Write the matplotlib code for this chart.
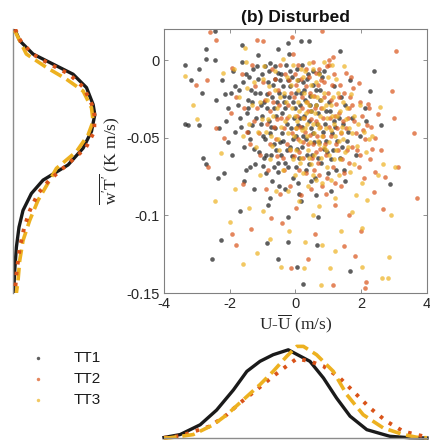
import matplotlib
matplotlib.use("Agg")
import matplotlib.pyplot as plt

plt.rcParams['font.family'] = ['Liberation Sans', 'DejaVu Sans']
plt.rcParams['axes.unicode_minus'] = False
plt.rcParams['mathtext.fontset'] = 'custom'
plt.rcParams['mathtext.rm'] = 'Liberation Serif'
plt.rcParams['mathtext.it'] = 'Liberation Serif'

C1 = '#1a1a1a'
C2 = '#d95319'
C3 = '#edb120'

# scatter points: (U - Ubar, w'T')
tt1_pts = [
    # outer points
    (-3.37, -0.003), (-3.37, -0.041), (-3.27, -0.042), (-2.94, -0.042), (-2.81, -0.063),
    (-2.71, -0.067), (-2.36, -0.076), (-2.16, -0.073), (-1.70, -0.097), (-2.26, -0.116),
    (-2.55, -0.128), (-0.53, -0.128), (-0.84, -0.093), (-0.87, -0.118), (-0.23, -0.101),
    (-0.23, -0.117), (-1.62, 0.010), (-2.71, 0.007), (-2.46, 0.019), (-2.94, -0.006),
    (-3.17, -0.013), (-2.83, -0.021), (-2.71, 0.001), (-2.46, 0.000), (-0.53, 0.007),
    (-0.23, 0.011), (0.17, 0.012), (0.41, 0.012), (1.35, 0.006), (2.39, -0.007),
    (2.27, -0.020), (2.13, -0.039), (2.60, -0.042), (2.87, -0.080), (1.51, -0.078),
    (1.66, -0.136), (0.24, -0.144), (0.04, -0.133), (0.64, -0.119), (0.69, -0.101),
    (0.11, -0.086), (1.66, -0.013), (2.11, -0.031),
    # main cloud
    (-2.23, -0.013), (-2.04, -0.031), (-1.91, -0.007), (-1.84, -0.046), (-1.72, -0.019),
    (-1.63, -0.001), (-1.57, -0.056), (-1.49, -0.034), (-1.41, -0.011), (-1.38, -0.069),
    (-1.31, -0.042), (-1.22, -0.021), (-1.17, -0.004), (-1.12, -0.059), (-1.06, -0.029),
    (-1.02, -0.009), (-0.98, -0.049), (-0.91, -0.073), (-0.88, -0.022), (-0.82, -0.039),
    (-0.79, -0.002), (-0.73, -0.061), (-0.68, -0.016), (-0.62, -0.044), (-0.57, -0.027),
    (-0.52, -0.008), (-0.49, -0.081), (-0.46, -0.053), (-0.41, -0.034), (-0.38, -0.017),
    (-0.32, -0.066), (-0.29, -0.003), (-0.26, -0.041), (-0.21, -0.024), (-0.17, -0.056),
    (-0.11, -0.011), (-0.09, -0.076), (-0.04, -0.037), (0.02, -0.049), (0.03, -0.021),
    (0.06, -0.006), (0.11, -0.063), (0.14, -0.029), (0.21, -0.043), (0.23, -0.014),
    (0.31, -0.071), (0.33, -0.051), (0.28, -0.026), (0.42, -0.039), (0.38, -0.009),
    (0.51, -0.061), (0.48, -0.044), (0.62, -0.019), (0.58, -0.076), (0.69, -0.034),
    (0.73, -0.053), (0.81, -0.011), (0.78, -0.066), (0.91, -0.041), (1.02, -0.027),
    (0.97, -0.059), (1.12, -0.047), (1.18, -0.017), (1.23, -0.071), (1.31, -0.037),
    (1.42, -0.056), (1.52, -0.029), (1.61, -0.046), (1.83, -0.061), (1.97, -0.049),
    (-1.93, -0.061), (-2.12, -0.039), (-1.27, -0.083), (-0.77, -0.089), (0.17, -0.091),
    (0.63, -0.087), (1.08, -0.084), (-1.52, -0.071), (-0.61, -0.004), (-0.19, 0.004),
    (-1.13, 0.003), (-0.43, -0.061), (0.01, -0.069), (-0.93, -0.051), (-1.33, -0.027),
    (0.43, -0.023), (-0.63, -0.012), (0.88, -0.007), (-1.68, -0.037), (-2.42, -0.026),
    (-1.83, -0.017), (-1.67, -0.043), (-1.52, -0.009), (-1.46, -0.026), (-1.37, -0.051),
    (-1.28, -0.006), (-1.19, -0.037), (-1.08, -0.021), (-0.97, -0.063), (-0.93, -0.004),
    (-0.86, -0.031), (-0.77, -0.047), (-0.71, -0.024), (-0.64, -0.069), (-0.58, -0.036),
    (-0.47, -0.013), (-0.42, -0.047), (-0.36, -0.027), (-0.27, -0.058), (-0.18, -0.007),
    (-0.14, -0.044), (-0.07, -0.027), (0.04, -0.057), (0.08, -0.013), (0.13, -0.037),
    (0.24, -0.049), (0.27, -0.019), (0.36, -0.061), (0.44, -0.029), (0.53, -0.016),
    (0.57, -0.053), (0.66, -0.041), (0.74, -0.026), (0.87, -0.057), (0.94, -0.033),
    (1.07, -0.064), (1.16, -0.039), (1.27, -0.052), (1.38, -0.024), (1.47, -0.071),
    (-2.05, -0.053), (-1.58, -0.078), (-0.33, -0.083), (0.46, -0.078), (-0.83, -0.014),
    (-0.12, -0.062), (0.19, -0.003), (-1.23, -0.067), (-0.54, -0.072), (0.71, -0.008),
    (-2.32, -0.044), (-1.95, -0.021), (1.73, -0.037), (0.98, -0.073), (-0.66, -0.054),
    (-1.76, -0.029), (-1.61, -0.014), (-1.44, -0.046), (-1.34, -0.019), (-1.26, -0.057),
    (-1.14, -0.012), (-1.04, -0.041), (-0.96, -0.027), (-0.89, -0.061), (-0.81, -0.007),
    (-0.74, -0.043), (-0.66, -0.031), (-0.59, -0.058), (-0.51, -0.021), (-0.44, -0.009),
    (-0.37, -0.052), (-0.31, -0.031), (-0.24, -0.069), (-0.16, -0.017), (-0.08, -0.051),
    (-0.02, -0.031), (0.07, -0.042), (0.16, -0.021), (0.19, -0.056), (0.26, -0.036),
    (0.34, -0.012), (0.41, -0.067), (0.47, -0.033), (0.54, -0.047), (0.61, -0.029),
    (0.67, -0.063), (0.76, -0.019), (0.84, -0.046), (0.93, -0.052), (1.04, -0.033),
    (1.13, -0.058), (1.21, -0.043), (1.34, -0.063), (1.44, -0.041), (1.57, -0.052),
    (-0.99, -0.068), (-0.53, -0.066), (0.09, -0.079), (-0.71, -0.078), (-1.43, -0.031),
    (-2.13, -0.022), (-0.23, -0.013), (0.52, -0.007), (-1.01, -0.036), (-0.34, -0.023),
]
tt2_pts = [
    # outer points
    (-2.61, 0.018), (-2.42, 0.013), (-1.16, 0.013), (-1.0, 0.012), (-0.10, 0.015),
    (-3.02, -0.016), (-2.70, -0.013), (-2.43, -0.044), (-2.66, -0.069), (-1.60, -0.080),
    (-1.34, -0.109), (-1.92, -0.112), (-1.80, -0.119), (-0.13, -0.134), (-0.74, -0.102),
    (0.82, 0.019), (3.06, 0.006), (1.02, 0.000), (2.93, -0.020), (3.00, -0.037),
    (3.59, -0.047), (3.69, -0.089), (3.12, -0.069), (2.66, -0.096), (1.81, -0.126),
    (2.13, -0.143), (2.10, -0.147), (1.15, -0.145), (2.42, -0.050), (2.60, -0.058),
    (2.21, -0.028), (2.52, -0.035), (1.93, -0.015), (2.71, -0.075), (2.38, -0.085),
    (1.63, -0.100), (1.21, -0.093), (0.58, -0.112), (0.03, -0.095), (-0.41, -0.105),
    (-2.18, -0.050), (-1.93, -0.005), (1.98, -0.110), (1.47, -0.120), (0.37, -0.128),
    # main cloud
    (-1.82, -0.024), (-1.63, -0.009), (-1.47, -0.046), (-1.33, -0.003), (-1.18, -0.031),
    (-1.07, -0.061), (-0.98, -0.014), (-0.87, -0.041), (-0.83, -0.071), (-0.72, -0.006),
    (-0.68, -0.027), (-0.59, -0.051), (-0.52, -0.019), (-0.43, -0.037), (-0.38, -0.063),
    (-0.31, -0.009), (-0.22, -0.029), (-0.18, -0.081), (-0.11, -0.047), (0.02, -0.016),
    (0.04, -0.036), (0.12, -0.059), (0.09, -0.003), (0.21, -0.024), (0.28, -0.046),
    (0.33, -0.073), (0.41, -0.011), (0.39, -0.033), (0.52, -0.054), (0.57, -0.023),
    (0.63, -0.039), (0.71, -0.006), (0.68, -0.066), (0.79, -0.031), (0.83, -0.049),
    (0.88, -0.014), (1.01, -0.043), (0.97, -0.076), (1.09, -0.026), (1.22, -0.054),
    (1.17, -0.009), (1.31, -0.034), (1.42, -0.064), (1.48, -0.021), (1.53, -0.044),
    (1.62, -0.031), (1.71, -0.056), (1.79, -0.039), (1.92, -0.069), (2.03, -0.036),
    (2.12, -0.051), (2.27, -0.064), (-0.48, -0.086), (0.18, -0.087), (0.92, -0.086),
    (1.38, -0.081), (-0.91, -0.083), (-1.39, -0.054), (0.53, -0.001), (-0.08, 0.004),
    (1.13, 0.002), (1.68, -0.011), (-1.97, -0.034), (-0.27, -0.054), (0.47, -0.083),
    (-1.24, -0.017), (-0.77, -0.033), (-0.63, -0.012), (-0.34, -0.044), (-0.14, -0.021),
    (0.07, -0.051), (0.16, -0.012), (0.24, -0.063), (0.36, -0.027), (0.44, -0.048),
    (0.61, -0.059), (0.74, -0.043), (0.86, -0.024), (0.94, -0.061), (1.06, -0.037),
    (1.14, -0.069), (1.27, -0.044), (1.36, -0.016), (1.57, -0.058), (1.66, -0.024),
    (1.84, -0.047), (1.96, -0.027), (2.17, -0.042), (2.33, -0.057), (1.02, -0.003),
    (0.26, -0.037), (-0.04, -0.062), (-0.56, -0.038), (0.67, -0.016), (1.47, -0.073),
    (2.08, -0.076), (-1.11, -0.047), (0.55, -0.071), (0.13, -0.043), (1.76, -0.018),
    (-0.46, -0.003), (-1.57, -0.031), (0.81, -0.081), (1.23, -0.028), (0.32, -0.006),
    (-0.92, -0.026), (-0.79, -0.054), (-0.66, -0.043), (-0.49, -0.029), (-0.27, -0.037),
    (-0.19, -0.013), (-0.06, -0.024), (0.03, -0.044), (0.19, -0.031), (0.23, -0.053),
    (0.31, -0.017), (0.46, -0.038), (0.49, -0.063), (0.59, -0.031), (0.66, -0.049),
    (0.77, -0.013), (0.84, -0.037), (0.91, -0.054), (0.99, -0.021), (1.08, -0.049),
    (1.19, -0.036), (1.29, -0.058), (1.33, -0.024), (1.44, -0.039), (1.59, -0.037),
    (1.64, -0.066), (1.73, -0.029), (1.88, -0.058), (2.04, -0.045), (2.23, -0.031),
    (0.71, -0.074), (0.11, -0.071), (-0.36, -0.071), (1.19, -0.079), (-1.27, -0.039),
    (-0.16, -0.058), (0.37, -0.054), (1.53, -0.008), (0.96, -0.004), (-0.57, -0.062),
    (2.42, -0.072), (2.31, -0.043), (1.97, -0.061), (0.62, -0.008), (-0.03, -0.009),
    (1.10, -0.016), (0.43, -0.021), (0.76, -0.057), (1.38, -0.047), (-0.81, -0.021),
]
tt3_pts = [
    # outer points
    (-3.37, -0.010), (-3.12, -0.029), (-3.0, -0.038), (-2.46, -0.091), (-2.0, -0.104),
    (-1.6, -0.131), (-1.17, -0.124), (-1.85, -0.083), (-0.43, -0.133), (-1.0, -0.097),
    (0.27, -0.134), (0.78, -0.145), (1.05, -0.134), (2.01, -0.133), (2.62, -0.140),
    (2.80, -0.140), (2.84, -0.127), (3.03, -0.069), (2.65, -0.067), (2.34, -0.049),
    (2.51, -0.074), (2.01, -0.108), (0.29, -0.117), (1.2, -0.123), (0.8, -0.119),
    (-2.21, -0.008), (-1.53, 0.008), (2.58, -0.030), (2.19, -0.090), (1.71, -0.098),
    (1.39, -0.110), (0.52, -0.100), (-0.21, -0.110), (-0.79, -0.115), (-1.41, -0.095),
    (-2.28, -0.060), (2.91, -0.100),
    # main cloud
    (-1.88, -0.006), (-1.73, -0.024), (-1.52, -0.001), (-1.41, -0.041), (-1.27, -0.014),
    (-1.19, -0.056), (-1.08, -0.027), (-0.97, -0.004), (-0.91, -0.046), (-0.82, -0.017),
    (-0.78, -0.064), (-0.69, -0.036), (-0.62, -0.007), (-0.53, -0.051), (-0.47, -0.024),
    (-0.39, -0.071), (-0.32, -0.039), (-0.27, -0.011), (-0.18, -0.057), (-0.12, -0.031),
    (-0.07, -0.003), (0.03, -0.044), (-0.02, -0.074), (0.09, -0.019), (0.22, -0.037),
    (0.18, -0.063), (0.29, -0.007), (0.34, -0.049), (0.41, -0.029), (0.52, -0.041),
    (0.48, -0.067), (0.61, -0.014), (0.58, -0.034), (0.71, -0.054), (0.79, -0.026),
    (0.82, -0.079), (0.92, -0.044), (0.98, -0.011), (1.03, -0.061), (1.12, -0.036),
    (1.19, -0.049), (1.28, -0.021), (1.33, -0.074), (1.41, -0.043), (1.52, -0.059),
    (1.58, -0.031), (1.73, -0.047), (1.77, -0.067), (1.91, -0.041), (2.02, -0.079),
    (2.13, -0.059), (-0.58, -0.084), (0.12, -0.091), (0.73, -0.094), (1.21, -0.089),
    (1.83, -0.087), (-1.08, -0.074), (-1.61, -0.049), (0.42, -0.002), (-0.38, 0.001),
    (0.88, -0.001), (-0.22, -0.084), (0.38, -0.081), (1.48, -0.004), (-0.88, -0.026),
    (-0.13, -0.016), (0.07, -0.027), (0.13, -0.052), (0.26, -0.021), (0.33, -0.034),
    (0.37, -0.058), (0.46, -0.016), (0.55, -0.047), (0.66, -0.024), (0.67, -0.041),
    (0.76, -0.036), (0.86, -0.056), (0.94, -0.029), (1.07, -0.045), (1.14, -0.024),
    (1.24, -0.058), (1.36, -0.033), (1.46, -0.051), (1.63, -0.044), (1.69, -0.022),
    (-0.44, -0.043), (-0.57, -0.031), (-0.74, -0.049), (-1.02, -0.038), (-1.33, -0.029),
    (-0.23, -0.047), (0.02, -0.058), (0.54, -0.006), (0.16, -0.006), (-0.01, -0.036),
    (0.78, -0.063), (1.34, -0.064), (2.24, -0.051), (1.96, -0.029), (0.23, -0.073),
    (0.63, -0.077), (-1.47, -0.018), (-0.99, -0.012), (1.86, -0.055), (1.11, -0.003),
    (-0.34, -0.021), (-0.19, -0.036), (-0.04, -0.049), (0.04, -0.013), (0.11, -0.033),
    (0.19, -0.045), (0.31, -0.027), (0.36, -0.041), (0.44, -0.053), (0.49, -0.023),
    (0.57, -0.061), (0.62, -0.029), (0.73, -0.044), (0.81, -0.049), (0.87, -0.021),
    (0.96, -0.037), (1.01, -0.053), (1.09, -0.029), (1.17, -0.041), (1.26, -0.036),
    (1.31, -0.052), (1.43, -0.027), (1.54, -0.038), (1.61, -0.056), (1.79, -0.036),
    (0.14, -0.066), (0.52, -0.074), (0.97, -0.069), (-0.49, -0.058), (-0.63, -0.019),
    (-0.84, -0.038), (-1.13, -0.046), (0.24, -0.011), (0.71, -0.009), (1.23, -0.012),
    (-0.09, -0.064), (0.41, -0.063), (1.08, -0.077), (1.67, -0.072), (2.08, -0.046),
    (0.29, -0.044), (0.68, -0.052), (0.85, -0.031), (1.18, -0.064), (-0.28, -0.027),
    (0.06, -0.039), (0.47, -0.033), (0.93, -0.058), (1.38, -0.046), (-0.72, -0.055),
]

# marginal pdf of U - Ubar (bottom)
u_tt1 = [-4.0, -3.51, -2.90, -2.40, -1.89, -1.48, -1.08, -0.68, -0.22, 0.44, 0.85, 1.25, 1.66, 2.17, 2.87, 3.48, 4.0]
p_tt1 = [0.002, 0.014, 0.054, 0.114, 0.196, 0.272, 0.313, 0.340, 0.360, 0.313, 0.245, 0.163, 0.089, 0.034, 0.007, 0.001, 0.0]
u_tt2 = [-4.0, -3.51, -2.60, -2.09, -1.69, -1.18, -0.68, -0.22, 0.04, 0.44, 0.85, 1.35, 1.86, 2.27, 2.77, 3.28, 3.89, 4.0]
p_tt2 = [0.001, 0.008, 0.048, 0.095, 0.143, 0.197, 0.252, 0.299, 0.324, 0.313, 0.293, 0.245, 0.177, 0.122, 0.068, 0.027, 0.007, 0.005]
u_tt3 = [-4.0, -3.82, -3.11, -2.50, -2.09, -1.59, -1.08, -0.68, -0.27, 0.04, 0.24, 0.64, 1.15, 1.56, 2.06, 2.67, 3.28, 3.69, 4.0]
p_tt3 = [0.0, 0.001, 0.014, 0.054, 0.095, 0.156, 0.218, 0.272, 0.333, 0.374, 0.374, 0.340, 0.272, 0.177, 0.095, 0.041, 0.014, 0.003, 0.001]

# marginal pdf of w'T' (left)
w_tt1 = [0.020, 0.0125, 0.0039, -0.0026, -0.0091, -0.0177, -0.0286, -0.0351, -0.0459, -0.0567, -0.0675, -0.0773, -0.0859, -0.0968, -0.1076, -0.1206, -0.1357, -0.150]
q_tt1 = [0.27, 1.07, 3.2, 6.4, 9.6, 11.74, 12.8, 13.07, 12.54, 11.2, 8.8, 4.8, 2.94, 1.6, 0.96, 0.54, 0.27, 0.1]
w_tt2 = [0.020, 0.0125, 0.0039, -0.0026, -0.0091, -0.0177, -0.0286, -0.0351, -0.0459, -0.0567, -0.0675, -0.0773, -0.0859, -0.0968, -0.1076, -0.1206, -0.1357, -0.150]
q_tt2 = [0.35, 1.2, 3.1, 5.9, 9.0, 11.3, 12.6, 13.0, 13.0, 11.6, 8.6, 5.8, 4.0, 2.7, 1.8, 1.1, 0.6, 0.3]
w_tt3 = [0.019, 0.0039, -0.0047, -0.0123, -0.0199, -0.0307, -0.0394, -0.0481, -0.0589, -0.0697, -0.0773, -0.0903, -0.1032, -0.1162, -0.1292, -0.1422, -0.150]
q_tt3 = [0.27, 2.14, 5.34, 8.54, 11.2, 12.54, 12.8, 12.0, 10.14, 6.94, 5.87, 4.0, 2.67, 1.6, 1.07, 0.8, 0.54]

labels = ['TT1', 'TT2', 'TT3']
colors = [C1, C2, C3]

DOTS = (0, (0.9, 1.9))
DASH = (0, (3.5, 1.6))

fig = plt.figure(figsize=(4.30, 4.44), dpi=100)
ax = fig.add_axes([0.3814, 0.340, 0.6116, 0.5946])
ax_l = fig.add_axes([0.0302, 0.340, 0.214, 0.5946])
ax_b = fig.add_axes([0.3814, 0.0135, 0.6116, 0.2207])

handles = []
for pts, c, lab in zip([tt1_pts, tt2_pts, tt3_pts], colors, labels):
    xs = [p[0] for p in pts]
    ys = [p[1] for p in pts]
    h = ax.scatter(xs, ys, s=11, color=c, alpha=0.7, linewidths=0, label=lab)
    handles.append(h)

ax.set_xlim(-4, 4)
ax.set_ylim(-0.15, 0.02)
ax.set_xticks([-4, -2, 0, 2, 4])
ax.set_yticks([-0.15, -0.1, -0.05, 0])
ax.set_yticklabels(['-0.15', '-0.1', '-0.05', '0'])
ax.tick_params(direction='in', top=True, right=True, length=3, width=0.6,
               color='#808080', labelsize=10.5, labelcolor='#262626', pad=3)
for sp in ax.spines.values():
    sp.set_color('#808080')
    sp.set_linewidth(0.8)
ax.set_title('(b) Disturbed', fontsize=12.5, fontweight='bold', color='#111111', pad=5)
ax.set_xlabel(r"U-$\overline{\mathrm{U}}$ (m/s)", fontsize=12.5, family='Liberation Serif',
              color='#262626', labelpad=1)
ax.set_ylabel(r"$\overline{\mathrm{w'T'}}$ (K m/s)", fontsize=12.5, family='Liberation Serif',
              color='#262626', labelpad=3)

# left marginal
ax_l.plot(q_tt1, w_tt1, color=C1, lw=2.4, zorder=2)
ax_l.plot(q_tt3, w_tt3, color=C3, lw=2.6, linestyle=DASH, zorder=3)
ax_l.plot(q_tt2, w_tt2, color=C2, lw=2.8, linestyle=DOTS, zorder=4)
ax_l.set_xlim(0, 14.7)
ax_l.set_ylim(-0.15, 0.02)
ax_l.set_xticks([])
ax_l.set_yticks([])
for k in ['top', 'right', 'bottom']:
    ax_l.spines[k].set_visible(False)
ax_l.spines['left'].set_color('#8c8c8c')
ax_l.spines['left'].set_linewidth(1.0)
ax_l.set_facecolor('none')

# bottom marginal
ax_b.plot(u_tt1, p_tt1, color=C1, lw=2.4, clip_on=False)
ax_b.plot(u_tt2, p_tt2, color=C2, lw=2.8, linestyle=DOTS, clip_on=False)
ax_b.plot(u_tt3, p_tt3, color=C3, lw=2.6, linestyle=DASH, clip_on=False)
ax_b.set_xlim(-4, 4)
ax_b.set_ylim(0, 0.4)
ax_b.set_xticks([])
ax_b.set_yticks([])
for k in ['top', 'right', 'left']:
    ax_b.spines[k].set_visible(False)
ax_b.spines['bottom'].set_color('#8c8c8c')
ax_b.spines['bottom'].set_linewidth(1.0)
ax_b.set_facecolor('none')

leg = fig.legend(handles, labels, loc='upper left', bbox_to_anchor=(0.053, 0.226),
                 frameon=False, fontsize=11, handlelength=1.0, handletextpad=1.8,
                 labelspacing=0.45, borderpad=0, markerscale=0.75)
for t in leg.get_texts():
    t.set_color('#1a1a1a')

fig.savefig('out.png', dpi=100)
